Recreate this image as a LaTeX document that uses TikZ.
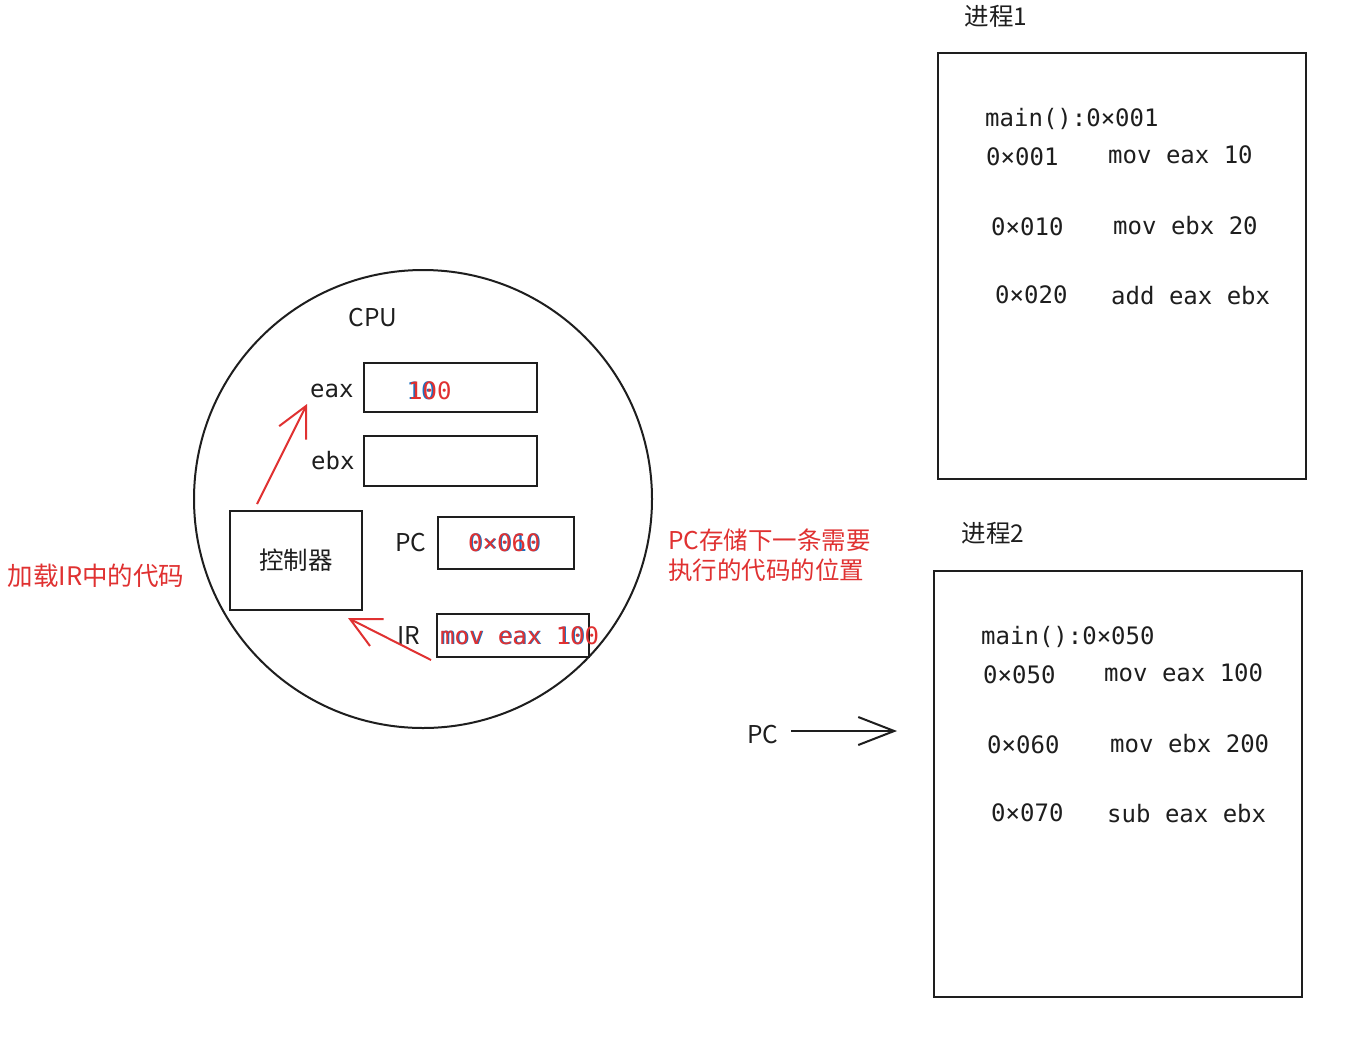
\documentclass[tikz,border=0pt]{standalone}
\usepackage{fontspec}
\setmainfont{Noto Sans CJK SC}
\newfontfamily\monof{DejaVu Sans Mono}
\usetikzlibrary{arrows.meta}
\definecolor{ink}{HTML}{1E1E1E}
\definecolor{redink}{HTML}{E03131}
\definecolor{blueink}{HTML}{1971C2}
\begin{document}
\begin{tikzpicture}[x=1pt,y=-1pt,
  box/.style={draw=ink, line width=2pt, inner sep=0pt},
  mono/.style={font=\monof\fontsize{24}{28}\selectfont, text=ink, inner sep=0pt, text height=17.5pt, text depth=0pt, anchor=west},
  sans/.style={font=\fontsize{24.5}{29}\selectfont, text=ink, inner sep=0pt, text height=17.5pt, text depth=0pt},
  redtxt/.style={text=redink},
  bluetxt/.style={text=blueink},
  redarrow/.style={draw=redink, line width=2pt, -{Straight Barb[length=30pt,width=30pt,line width=2pt]}},
  blackarrow/.style={draw=ink, line width=2pt, -{Straight Barb[length=36pt,width=28pt,line width=2pt]}}]
\fill[white] (0,0) rectangle (1348,1047);
% CPU
\node[box, circle, minimum size=458pt] (cpu) at (423,499) {};
\node[sans] (cpulbl) at (373,318) {CPU};
% eax
\node[box, minimum width=173pt, minimum height=49pt] (eaxbox) at (450.5,387.5) {};
\node[mono] (eaxlbl) at (310,389) {eax};
\node[mono, bluetxt] (eaxold) at (406.5,391) {10};
\node[mono, redtxt] (eaxval) at (408,391) {100};
% ebx
\node[box, minimum width=173pt, minimum height=50pt] (ebxbox) at (450.5,461) {};
\node[mono] (ebxlbl) at (311,461) {ebx};
% controller
\node[box, minimum width=132pt, minimum height=99pt] (ctrl) at (296,560.5) {};
\node[sans] (ctrllbl) at (296,561) {控制器};
% PC
\node[box, minimum width=136pt, minimum height=52pt] (pcbox) at (506,543) {};
\node[sans] (pclbl) at (411,543) {PC};
\node[mono, bluetxt] (pcold) at (469,543) {0×010};
\node[mono, redtxt] (pcval) at (468,543) {0×060};
% IR
\node[box, minimum width=152pt, minimum height=43pt] (irbox) at (513,635.5) {};
\node[sans] (irlbl) at (409,636) {IR};
\node[mono, bluetxt] (irold) at (441,636) {mov eax 10};
\node[mono, redtxt] (irval) at (440,636) {mov eax 100};
% red arrows
\coordinate (a1s) at (257,504);
\coordinate (a1e) at (307,404);
\draw[redarrow] (a1s) -- (a1e);
\coordinate (a2s) at (431,660);
\coordinate (a2e) at (348,618);
\draw[redarrow] (a2s) -- (a2e);
% red notes
\node[sans, redtxt, font=\fontsize{25.5}{29}\selectfont] (note1) at (96,577) {加载IR中的代码};
\node[sans, redtxt, anchor=west] (note2a) at (668,541) {PC存储下一条需要};
\node[sans, redtxt, anchor=west] (note2b) at (668,571) {执行的代码的位置};
% process 1
\node[sans] (p1lbl) at (996,17) {进程1};
\node[box, minimum width=368pt, minimum height=426pt] (p1box) at (1122,266) {};
\node[mono] (p1main) at (985,118) {main():0×001};
\node[mono] (p1a1) at (986,157) {0×001};
\node[mono] (p1i1) at (1108,155) {mov eax 10};
\node[mono] (p1a2) at (991,227) {0×010};
\node[mono] (p1i2) at (1113,226) {mov ebx 20};
\node[mono] (p1a3) at (995,295) {0×020};
\node[mono] (p1i3) at (1111,296) {add eax ebx};
% process 2
\node[sans] (p2lbl) at (993,534) {进程2};
\node[box, minimum width=368pt, minimum height=426pt] (p2box) at (1118,784) {};
\node[mono] (p2main) at (981,636) {main():0×050};
\node[mono] (p2a1) at (983,675) {0×050};
\node[mono] (p2i1) at (1104,673) {mov eax 100};
\node[mono] (p2a2) at (987,745) {0×060};
\node[mono] (p2i2) at (1110,744) {mov ebx 200};
\node[mono] (p2a3) at (991,813) {0×070};
\node[mono] (p2i3) at (1107,814) {sub eax ebx};
% PC pointer
\node[sans] (pcptr) at (763,735) {PC};
\coordinate (pcs) at (791,731);
\coordinate (pce) at (897,731);
\draw[blackarrow] (pcs) -- (pce);
\end{tikzpicture}
\end{document}
